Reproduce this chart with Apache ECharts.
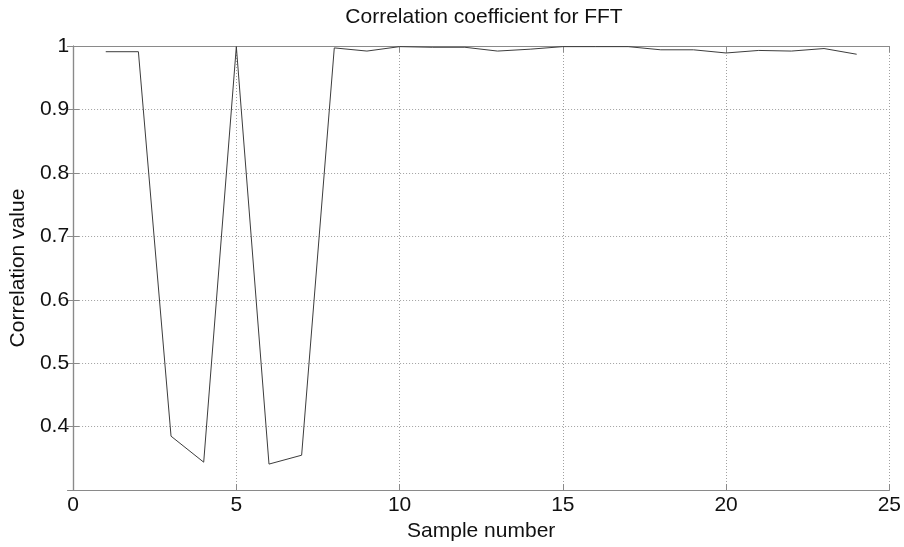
<!DOCTYPE html>
<html>
<head>
<meta charset="utf-8">
<script src="https://cdn.jsdelivr.net/npm/echarts@6/dist/echarts.min.js"></script>
<style>
  html, body { margin: 0; padding: 0; background: #fff; }
  #chart { width: 904px; height: 547px; }
</style>
</head>
<body>
<div id="chart"></div>
<script>
// Sample indices and their FFT correlation coefficients
const sampleNumbers = [1, 2, 3, 4, 5, 6, 7, 8, 9, 10, 11, 12, 13, 14, 15, 16, 17, 18, 19, 20, 21, 22, 23, 24];
const correlationValues = [
  0.991, 0.991, 0.385, 0.344, 0.999, 0.341, 0.355, 0.997,
  0.992, 0.999, 0.998, 0.998, 0.992, 0.995, 0.999, 0.999,
  0.999, 0.994, 0.994, 0.989, 0.993, 0.992, 0.996, 0.987
];
const xTicks = [0, 5, 10, 15, 20, 25];
const yTicks = [0.4, 0.5, 0.6, 0.7, 0.8, 0.9, 1];

const FONT = '"Liberation Sans", Arial, sans-serif';
const frameColor = '#8a8a8a';
const textColor = '#111';

const chart = echarts.init(document.getElementById('chart'), null, { renderer: 'canvas' });

const frameAxisLine = { show: true, lineStyle: { color: frameColor, width: 1.2 } };
const innerTick = { show: true, inside: true, length: 6, lineStyle: { color: frameColor, width: 1 } };

chart.setOption({
  animation: false,
  backgroundColor: '#fff',
  title: {
    text: 'Correlation coefficient for FFT',
    left: 479,
    textAlign: 'center',
    top: 2,
    textStyle: { fontFamily: FONT, fontSize: 21, fontWeight: 'normal', color: textColor }
  },
  grid: { left: 68, right: 14, top: 46, bottom: 45, containLabel: false },
  xAxis: [
    {
      type: 'value',
      min: xTicks[0],
      max: xTicks[xTicks.length - 1],
      interval: 5,
      position: 'bottom',
      name: 'Sample number',
      nameLocation: 'middle',
      nameGap: 23,
      nameTextStyle: { fontFamily: FONT, fontSize: 21, color: textColor },
      axisLine: frameAxisLine,
      axisTick: innerTick,
      axisLabel: { fontFamily: FONT, fontSize: 21, color: textColor, margin: 5 },
      splitLine: { show: true, lineStyle: { color: '#a0a0a0', type: [1, 2], width: 1 } }
    },
    {
      type: 'value',
      min: xTicks[0],
      max: xTicks[xTicks.length - 1],
      interval: 5,
      position: 'top',
      axisLine: frameAxisLine,
      axisTick: innerTick,
      axisLabel: { show: false },
      splitLine: { show: false }
    }
  ],
  yAxis: [
    {
      type: 'value',
      min: 0.3,
      max: 1,
      interval: 0.1,
      position: 'left',
      name: 'Correlation value',
      nameLocation: 'middle',
      nameGap: 39,
      nameTextStyle: { fontFamily: FONT, fontSize: 21, color: textColor },
      axisLine: frameAxisLine,
      axisTick: innerTick,
      axisLabel: {
        fontFamily: FONT, fontSize: 21, color: textColor, margin: 4,
        showMinLabel: false,
        formatter: v => (yTicks.some(t => Math.abs(t - v) < 1e-9) ? String(+v.toFixed(1)) : '')
      },
      splitLine: { show: true, lineStyle: { color: '#a0a0a0', type: [1, 2], width: 1 } }
    },
    {
      type: 'value',
      min: 0.3,
      max: 1,
      interval: 0.1,
      position: 'right',
      axisLine: frameAxisLine,
      axisTick: innerTick,
      axisLabel: { show: false },
      splitLine: { show: false }
    }
  ],
  series: [
    {
      type: 'line',
      data: sampleNumbers.map((x, i) => [x, correlationValues[i]]),
      xAxisIndex: 0,
      yAxisIndex: 0,
      showSymbol: false,
      symbol: 'none',
      lineStyle: { color: '#3c3c3c', width: 1 },
      z: 5
    }
  ]
});
</script>
</body>
</html>
